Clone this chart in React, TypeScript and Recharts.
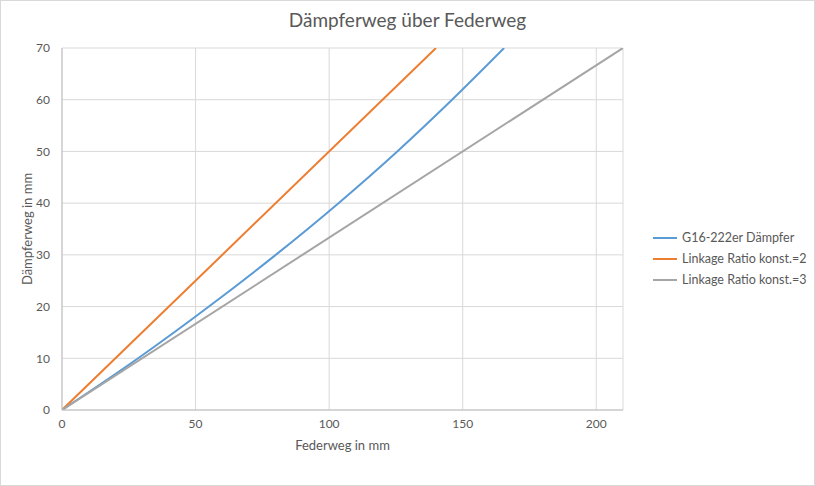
import React from "react";
import { LineChart, Line, XAxis, YAxis, CartesianGrid } from "recharts";

const blueX = [0, 28.5, 55, 80, 103.5, 125.5, 146, 165.5];
const blueY = [0, 10, 20, 30, 40, 50, 60, 70];
const orangeX = [0, 140];
const orangeY = [0, 70];
const grayX = [0, 210];
const grayY = [0, 70];

const xTicks = [0, 50, 100, 150, 200];
const yTicks = [0, 10, 20, 30, 40, 50, 60, 70];

const seriesNames = ["G16-222er Dämpfer", "Linkage Ratio konst.=2", "Linkage Ratio konst.=3"];
const colors = ["#5b9bd5", "#ed7d31", "#a5a5a5"];

const toPts = (xs: number[], ys: number[]) => xs.map((x, i) => ({ x, y: ys[i] }));
const blueData = toPts(blueX, blueY);
const orangeData = toPts(orangeX, orangeY);
const grayData = toPts(grayX, grayY);

const FONT = "Lato, 'Open Sans', sans-serif";
const TXT = "#595959";

export default function App() {
  return (
    <div style={{ position: "absolute", left: 0, top: 0, width: 815, height: 486, background: "#fff" }}>
      <div
        style={{
          position: "absolute",
          left: 0,
          top: 0,
          width: 813,
          height: 484,
          border: "1px solid #d9d9d9",
        }}
      />
      <div
        style={{
          position: "absolute",
          left: 0,
          width: 815,
          top: 8,
          textAlign: "center",
          fontFamily: FONT,
          fontSize: 19,
          color: TXT,
        }}
      >
        Dämpferweg über Federweg
      </div>
      <LineChart
        width={815}
        height={486}
        margin={{ top: 48, right: 192, bottom: 46, left: 0 }}
        style={{ position: "absolute", left: 0, top: 0 }}
      >
        <CartesianGrid stroke="#d9d9d9" strokeWidth={1} />
        <XAxis
          type="number"
          dataKey="x"
          domain={[0, 210]}
          ticks={xTicks}
          allowDataOverflow
          height={30}
          tickLine={false}
          tickSize={0}
          tickMargin={9}
          stroke="#bfbfbf"
          tick={{ fill: TXT, fontSize: 12, fontFamily: FONT }}
          label={{ value: "Federweg in mm", position: "insideBottom", offset: -10, fill: TXT, fontSize: 13, fontFamily: FONT }}
        />
        <YAxis
          type="number"
          dataKey="y"
          domain={[0, 70]}
          ticks={yTicks}
          allowDataOverflow
          width={62}
          tickLine={false}
          tickSize={0}
          tickMargin={12}
          stroke="#bfbfbf"
          tick={{ fill: TXT, fontSize: 12, fontFamily: FONT }}
          label={{ value: "Dämpferweg in mm", angle: -90, position: "insideLeft", offset: 27, fill: TXT, fontSize: 13, fontFamily: FONT, style: { textAnchor: "middle" } }}
        />
        <Line data={blueData} dataKey="y" name={seriesNames[0]} type="monotone" stroke={colors[0]} strokeWidth={2} dot={false} isAnimationActive={false} />
        <Line data={orangeData} dataKey="y" name={seriesNames[1]} type="linear" stroke={colors[1]} strokeWidth={2} dot={false} isAnimationActive={false} />
        <Line data={grayData} dataKey="y" name={seriesNames[2]} type="linear" stroke={colors[2]} strokeWidth={2} dot={false} isAnimationActive={false} />
      </LineChart>
      <div style={{ position: "absolute", left: 653, top: 227, fontFamily: FONT, fontSize: 12.5, color: TXT }}>
        {seriesNames.map((n, i) => (
          <div key={n} style={{ display: "flex", alignItems: "center", height: 21 }}>
            <div style={{ width: 24, height: 2, background: colors[i], marginRight: 5 }} />
            <span>{n}</span>
          </div>
        ))}
      </div>
    </div>
  );
}
